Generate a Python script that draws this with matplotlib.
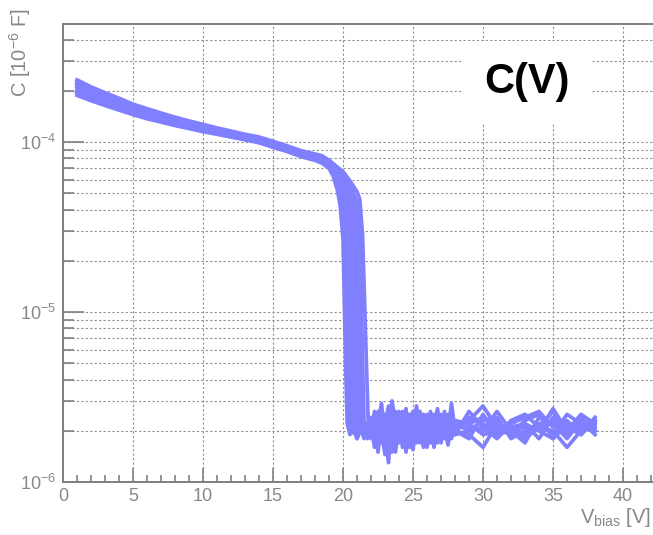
import numpy as np
import matplotlib
matplotlib.use('Agg')
import matplotlib.pyplot as plt
from matplotlib.ticker import MultipleLocator, LogLocator, NullFormatter

plt.rcParams['font.family'] = ['Liberation Sans', 'DejaVu Sans']
plt.rcParams['mathtext.fontset'] = 'custom'
plt.rcParams['mathtext.rm'] = 'Liberation Sans'
plt.rcParams['mathtext.it'] = 'Liberation Sans:italic'
plt.rcParams['mathtext.bf'] = 'Liberation Sans:bold'
plt.rcParams['mathtext.default'] = 'regular'

# C values are in units of 1e-6 F
# smooth part, shared bias points
v_smooth = [1, 2, 3, 4, 5, 6, 7, 8, 9, 10, 11, 12, 13, 14, 15, 16, 17, 18]
c_smooth = [
    [232, 211, 195, 181, 167, 157, 148, 140, 133, 127, 121, 116, 111, 107, 101, 95, 89, 85],
    [224, 204, 189, 176, 163, 153, 145, 137, 131, 125, 119, 114, 110, 105, 99, 94, 88, 84],
    [217, 199, 184, 171, 160, 150, 142, 135, 129, 123, 118, 113, 108, 104, 98, 93, 87, 83],
    [211, 194, 180, 168, 157, 148, 140, 133, 127, 122, 117, 112, 107, 103, 97, 92, 86, 82],
    [205, 189, 176, 164, 154, 145, 138, 131, 125, 120, 115, 110, 106, 102, 96, 91, 85, 81],
    [200, 185, 172, 161, 151, 143, 136, 129, 124, 119, 114, 109, 105, 101, 95, 90, 84, 80],
    [194, 180, 168, 157, 148, 140, 133, 127, 122, 117, 112, 108, 104, 100, 94, 89, 83, 79],
    [188, 175, 164, 154, 145, 137, 131, 125, 120, 115, 111, 107, 103, 99, 93, 88, 82, 78],
    [221, 202, 187, 174, 162, 152, 144, 136, 130, 124, 119, 114, 109, 105, 99, 93, 87, 83],
    [197, 183, 170, 159, 150, 142, 135, 128, 123, 118, 113, 108, 104, 100, 94, 89, 83, 79],
]

# breakdown knee, one list per curve
v_knee = [
    [18.5, 19.0, 19.6, 20.0, 20.5, 21.0, 21.2, 21.4, 21.6, 21.7, 21.8],
    [18.5, 19.0, 19.5, 20.0, 20.5, 21.0, 21.2, 21.3, 21.4, 21.5, 21.75],
    [18.5, 19.0, 19.5, 20.0, 20.5, 20.9, 21.0, 21.1, 21.2, 21.3, 21.5, 21.75],
    [18.5, 19.0, 19.5, 20.0, 20.5, 20.8, 20.9, 21.0, 21.1, 21.5, 21.75],
    [18.5, 19.0, 19.5, 20.0, 20.4, 20.6, 20.7, 20.8, 20.9, 21.25, 21.5, 21.75],
    [18.5, 19.0, 19.5, 20.0, 20.2, 20.4, 20.5, 20.6, 20.7, 21.0, 21.25, 21.5, 21.75],
    [18.5, 19.0, 19.5, 19.8, 20.0, 20.2, 20.3, 20.4, 20.5, 20.75, 21.0, 21.25, 21.5, 21.75],
    [18.5, 19.0, 19.3, 19.6, 19.8, 20.0, 20.1, 20.2, 20.3, 20.5, 20.75, 21.0, 21.25, 21.5, 21.75],
    [18.5, 19.0, 19.5, 20.0, 20.5, 20.85, 20.95, 21.05, 21.15, 21.5, 21.75],
    [18.5, 19.0, 19.5, 19.8, 20.0, 20.1, 20.2, 20.3, 20.4, 20.6, 20.9, 21.2, 21.5, 21.75],
]
c_knee = [
    [83, 78, 71, 67, 59, 51, 46, 28, 8, 4.2, 2.3],
    [82, 78, 72, 66, 57, 44, 30, 13, 5, 2.3, 2.1],
    [81, 77, 71, 64, 53, 40, 30, 13, 5, 2.4, 2.0, 1.9],
    [80, 76, 70, 61, 47, 30, 13, 5, 2.4, 2.0, 2.2],
    [79, 75, 68, 57, 42, 27, 12, 5, 2.3, 2.0, 1.9, 2.1],
    [78, 74, 66, 52, 42, 27, 12, 5, 2.3, 1.9, 2.1, 1.9, 2.2],
    [77, 72, 62, 52, 42, 27, 12, 5, 2.3, 2.1, 1.8, 2.0, 2.2, 2.0],
    [75, 70, 63, 52, 42, 27, 11, 4.5, 2.2, 1.9, 2.1, 1.8, 2.2, 2.0, 1.8],
    [81, 76, 70, 62, 50, 35, 14, 5, 2.3, 2.1, 1.9],
    [76, 71, 63, 53, 42, 30, 13, 5, 2.3, 2.0, 1.9, 2.2, 1.8, 2.1],
]

# noisy region after breakdown, fine steps
v_noise = [22.0, 22.25, 22.5, 22.75, 23.0, 23.25, 23.5, 23.75, 24.0, 24.25, 24.5, 24.75, 25.0,
           25.25, 25.5, 25.75, 26.0, 26.25, 26.5, 26.75, 27.0, 27.25, 27.5, 27.75, 28.0]
c_noise = [
    [2.1, 1.9, 2.6, 1.7, 2.2, 2.8, 1.9, 2.0, 2.4, 1.6, 2.1, 2.5, 1.9, 2.2, 1.8, 2.3, 2.0, 2.6, 1.9, 2.1, 2.2, 1.8, 2.4, 2.0, 2.1],
    [1.8, 2.4, 1.5, 2.3, 2.0, 1.3, 2.5, 2.1, 1.8, 2.6, 1.9, 2.0, 2.3, 1.7, 2.4, 2.0, 1.8, 2.2, 2.5, 1.9, 2.0, 2.3, 1.9, 2.2, 2.0],
    [2.3, 2.0, 2.2, 2.9, 1.8, 2.1, 2.3, 1.5, 2.2, 2.0, 2.7, 1.8, 2.1, 2.4, 2.0, 1.6, 2.2, 2.0, 1.9, 2.4, 1.7, 2.1, 2.0, 2.3, 1.9],
    [2.0, 2.2, 1.9, 2.1, 2.5, 1.9, 3.0, 2.2, 1.9, 2.3, 1.5, 2.2, 2.0, 2.8, 1.9, 2.1, 2.5, 1.7, 2.2, 2.0, 2.4, 1.9, 2.1, 1.8, 2.2],
    [1.9, 2.1, 2.3, 1.8, 2.1, 2.4, 2.0, 1.7, 2.6, 2.1, 2.0, 1.6, 2.4, 2.0, 2.2, 1.9, 2.3, 2.1, 1.6, 2.2, 2.0, 2.6, 1.8, 2.0, 2.3],
    [2.2, 1.6, 2.1, 2.4, 1.9, 2.2, 1.6, 2.4, 2.0, 1.9, 2.3, 2.1, 1.8, 2.1, 2.6, 2.0, 1.9, 2.3, 2.0, 1.7, 2.3, 2.0, 2.2, 1.9, 2.0],
    [2.0, 2.3, 1.8, 2.0, 1.45, 2.3, 2.1, 2.0, 1.7, 2.2, 2.4, 1.9, 1.55, 2.2, 2.0, 2.4, 1.6, 2.0, 2.2, 2.7, 1.9, 2.1, 1.65, 2.2, 2.1],
    [2.4, 1.8, 2.0, 2.2, 2.3, 1.8, 2.2, 2.6, 2.1, 1.8, 2.2, 2.0, 2.2, 1.9, 2.1, 2.2, 2.0, 1.9, 2.3, 2.0, 1.8, 2.2, 2.0, 2.9, 2.0],
    [2.2, 2.0, 1.7, 2.4, 1.9, 2.1, 2.7, 1.8, 2.3, 2.0, 1.8, 2.3, 2.6, 1.9, 2.0, 2.2, 2.1, 1.8, 2.1, 2.3, 2.5, 2.0, 2.2, 2.1, 1.9],
    [1.9, 2.6, 2.1, 2.0, 2.2, 2.5, 1.5, 2.0, 2.5, 2.2, 1.9, 2.4, 2.0, 2.3, 1.7, 2.5, 2.2, 1.9, 2.4, 1.8, 2.1, 1.9, 2.5, 2.0, 2.2],
]

# coarse tail, 1 V steps
v_tail = [29, 30, 31, 32, 33, 34, 35, 36, 37, 38]
c_tail = [
    [2.3, 2.8, 2.1, 1.9, 2.2, 2.0, 2.7, 2.0, 2.5, 2.2],
    [1.9, 1.6, 2.2, 2.0, 1.8, 2.1, 2.0, 1.6, 2.0, 2.1],
    [2.6, 2.1, 1.8, 2.2, 2.4, 2.6, 2.1, 2.3, 1.9, 2.3],
    [2.0, 2.3, 2.4, 1.8, 2.0, 2.2, 1.9, 2.5, 2.2, 2.0],
    [2.2, 1.9, 2.0, 2.1, 2.2, 1.8, 2.4, 2.1, 1.9, 2.4],
    [1.8, 2.5, 1.9, 2.0, 1.7, 2.4, 2.2, 1.8, 2.3, 1.9],
    [2.1, 2.0, 2.6, 2.0, 2.1, 2.0, 1.8, 2.2, 2.1, 2.2],
    [2.4, 2.2, 1.9, 2.3, 2.5, 2.1, 2.6, 2.0, 2.4, 2.0],
    [2.0, 2.1, 2.3, 1.9, 2.3, 2.5, 1.8, 2.2, 2.0, 2.1],
    [2.2, 2.4, 2.0, 2.1, 1.9, 2.2, 2.3, 1.9, 2.2, 2.3],
]

GRAY = '#808080'
LINE = '#8080ff'

fig = plt.figure(figsize=(6.53, 5.35), dpi=100)
ax = fig.add_axes([63/653, 53/535, 602/653, 458/535])

for i in range(len(c_smooth)):
    v = v_smooth + v_knee[i] + v_noise + v_tail
    c = c_smooth[i] + c_knee[i] + c_noise[i] + c_tail[i]
    ax.plot(v, np.array(c) * 1e-6, color=LINE, lw=2.7, solid_joinstyle='round', zorder=3)

ax.set_yscale('log')
ax.set_xlim(0, 602/14)
ax.set_ylim(1e-6, 10**(-6 + 458/170))

ax.xaxis.set_major_locator(MultipleLocator(5))
ax.xaxis.set_minor_locator(MultipleLocator(1))
ax.yaxis.set_major_locator(LogLocator(base=10))
ax.yaxis.set_minor_locator(LogLocator(base=10, subs=np.arange(2, 10)))
ax.yaxis.set_minor_formatter(NullFormatter())

ax.grid(True, which='major', axis='x', color='#909090', ls=(0, (2, 2)), lw=0.8)
ax.grid(True, which='both', axis='y', color='#909090', ls=(0, (2, 2)), lw=0.8)

ax.tick_params(axis='x', which='major', direction='in', length=10, width=1.2, color=GRAY,
               labelsize=13, labelcolor='#888888', pad=4)
ax.tick_params(axis='x', which='minor', direction='in', length=5, width=1.2, color=GRAY)
ax.tick_params(axis='y', which='major', direction='in', length=15, width=1.2, color=GRAY,
               labelsize=13, labelcolor='#888888', pad=5)
ax.tick_params(axis='y', which='minor', direction='in', length=8, width=1.2, color=GRAY)

for s in ax.spines.values():
    s.set_color(GRAY)
    s.set_linewidth(1.4)

fig.text(20/653, 1 - 8/535, 'C [10$^{-6}$ F]', rotation=90, ha='center', va='top',
         fontsize=14.5, color='#888888')
fig.text(651/653, 6/535, r'V$_{\mathrm{bias}}$ [V]', ha='right', va='bottom',
         fontsize=14.5, color='#888888')

ax.text(527/653, 1 - 82/535, 'C(V)', transform=fig.transFigure, ha='center', va='center',
        fontsize=30, fontweight='bold', color='black', zorder=5,
        bbox=dict(boxstyle='square,pad=0.5', fc='white', ec='none'))

fig.savefig('out.png', dpi=100)
